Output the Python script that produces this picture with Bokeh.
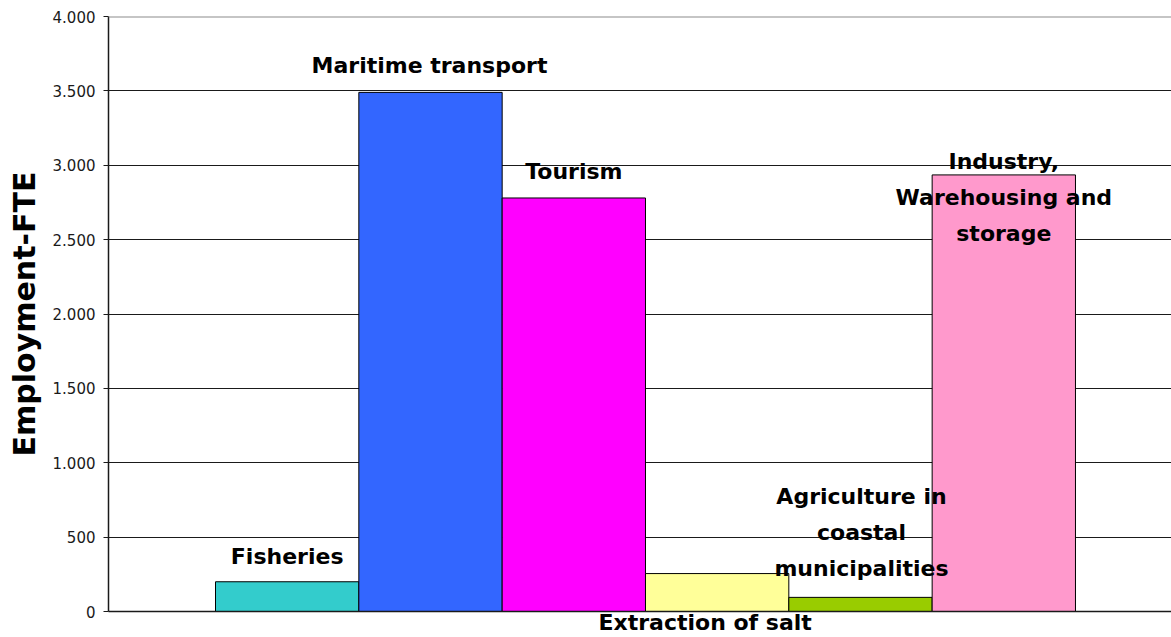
from bokeh.plotting import figure
from bokeh.models import ColumnDataSource, Range1d, FixedTicker, Span, LabelSet
from bokeh.core.properties import value
from bokeh.embed import file_html
from bokeh.resources import INLINE

# ---------------- data ----------------
categories = [
    "Fisheries",
    "Maritime transport",
    "Tourism",
    "Extraction of salt",
    "Agriculture in coastal municipalities",
    "Industry, Warehousing and storage",
]
employment_fte = [200, 3490, 2780, 255, 95, 2935]
bar_colors = ["#33CCCC", "#3366FF", "#FF00FF", "#FFFF99", "#99CC00", "#FF99CC"]
y_ticks = [0, 500, 1000, 1500, 2000, 2500, 3000, 3500, 4000]
y_title = "Employment-FTE"

# ---------------- label layout ----------------
label_lines = [
    ["Fisheries"],
    ["Maritime transport"],
    ["Tourism"],
    None,   # drawn under the axis (see x axis below)
    ["Agriculture in", "coastal", "municipalities"],
    ["Industry,", "Warehousing and", "storage"],
]
label_dx = [0, -1, 0, -12, 1, 0]          # px
label_dy = [-18, -19, -19, 0, -93, -6]    # px, screen-down, first line baseline
line_step = 36
below_axis_index = 3

FONT = "DejaVu Sans"

# ---------------- geometry ----------------
bar_px = 143.33
frame_w = 1063
left_gap_px = 107
x_start = -0.5 - left_gap_px / bar_px
x_end = x_start + frame_w / bar_px

p = figure(
    width=1171, height=637,
    x_range=Range1d(x_start, x_end), y_range=Range1d(0, 4000),
    output_backend="svg", toolbar_location=None,
    min_border_left=108, min_border_right=0, min_border_top=16, min_border_bottom=26,
    background_fill_color="white", border_fill_color="white",
)
p.outline_line_color = None

xs = list(range(len(categories)))
bar_src = ColumnDataSource(dict(x=xs, top=employment_fte, color=bar_colors, name=categories))
p.vbar(x="x", top="top", width=1.0, bottom=0, fill_color="color",
       line_color="black", line_width=1, source=bar_src)

# grid
p.xgrid.grid_line_color = None
p.ygrid.ticker = FixedTicker(ticks=y_ticks[:-1])
p.ygrid.grid_line_color = "#1a1a1a"
p.ygrid.grid_line_width = 1.2
p.add_layout(Span(location=y_ticks[-1], dimension="width", line_color="#8c8c8c", line_width=2))

# y axis
p.yaxis.ticker = FixedTicker(ticks=y_ticks)
p.yaxis.major_label_overrides = {t: f"{t:,}".replace(",", ".") for t in y_ticks}
p.yaxis.major_label_text_font = FONT
p.yaxis.major_label_text_font_size = "15px"
p.yaxis.major_label_text_color = "#1a1a1a"
p.yaxis.major_tick_out = 5
p.yaxis.major_tick_in = 0
p.yaxis.minor_tick_line_color = None
p.yaxis.major_label_standoff = 8
p.yaxis.axis_line_color = "#1a1a1a"
p.yaxis.axis_line_width = 1.5
p.yaxis.major_tick_line_color = "#1a1a1a"
p.yaxis.major_tick_line_width = 1.2
p.yaxis.axis_label = y_title
p.yaxis.axis_label_text_font = FONT
p.yaxis.axis_label_text_font_style = "bold"
p.yaxis.axis_label_text_font_size = "30px"
p.yaxis.axis_label_text_color = "black"
p.yaxis.axis_label_standoff = 8

# x axis: carries the label that sits under the baseline
salt_pos = xs[below_axis_index] + label_dx[below_axis_index] / bar_px
p.xaxis.ticker = FixedTicker(ticks=[salt_pos])
p.xaxis.major_label_overrides = {salt_pos: categories[below_axis_index]}
p.xaxis.major_label_text_font = FONT
p.xaxis.major_label_text_font_style = "bold"
p.xaxis.major_label_text_font_size = "22px"
p.xaxis.major_label_text_color = "black"
p.xaxis.major_label_standoff = -2
p.xaxis.major_tick_out = 0
p.xaxis.major_tick_in = 0
p.xaxis.major_tick_line_color = None
p.xaxis.minor_tick_line_color = None
p.xaxis.axis_line_color = "#1a1a1a"
p.xaxis.axis_line_width = 1.5

# labels above / on the bars
lx, ly, lt, lxo, lyo = [], [], [], [], []
for i, lines in enumerate(label_lines):
    if lines is None:
        continue
    for k, line in enumerate(lines):
        lx.append(xs[i])
        ly.append(employment_fte[i])
        lt.append(line)
        lxo.append(label_dx[i])
        lyo.append(-(label_dy[i] + k * line_step))
lab_src = ColumnDataSource(dict(x=lx, y=ly, text=lt, xo=lxo, yo=lyo))
p.add_layout(LabelSet(x="x", y="y", text="text", x_offset="xo", y_offset="yo",
                      source=lab_src, text_font=value(FONT), text_font_style="bold",
                      text_font_size="22px", text_color="black",
                      text_align="center", text_baseline="alphabetic"))

open("out.html", "w").write(file_html(p, INLINE))
